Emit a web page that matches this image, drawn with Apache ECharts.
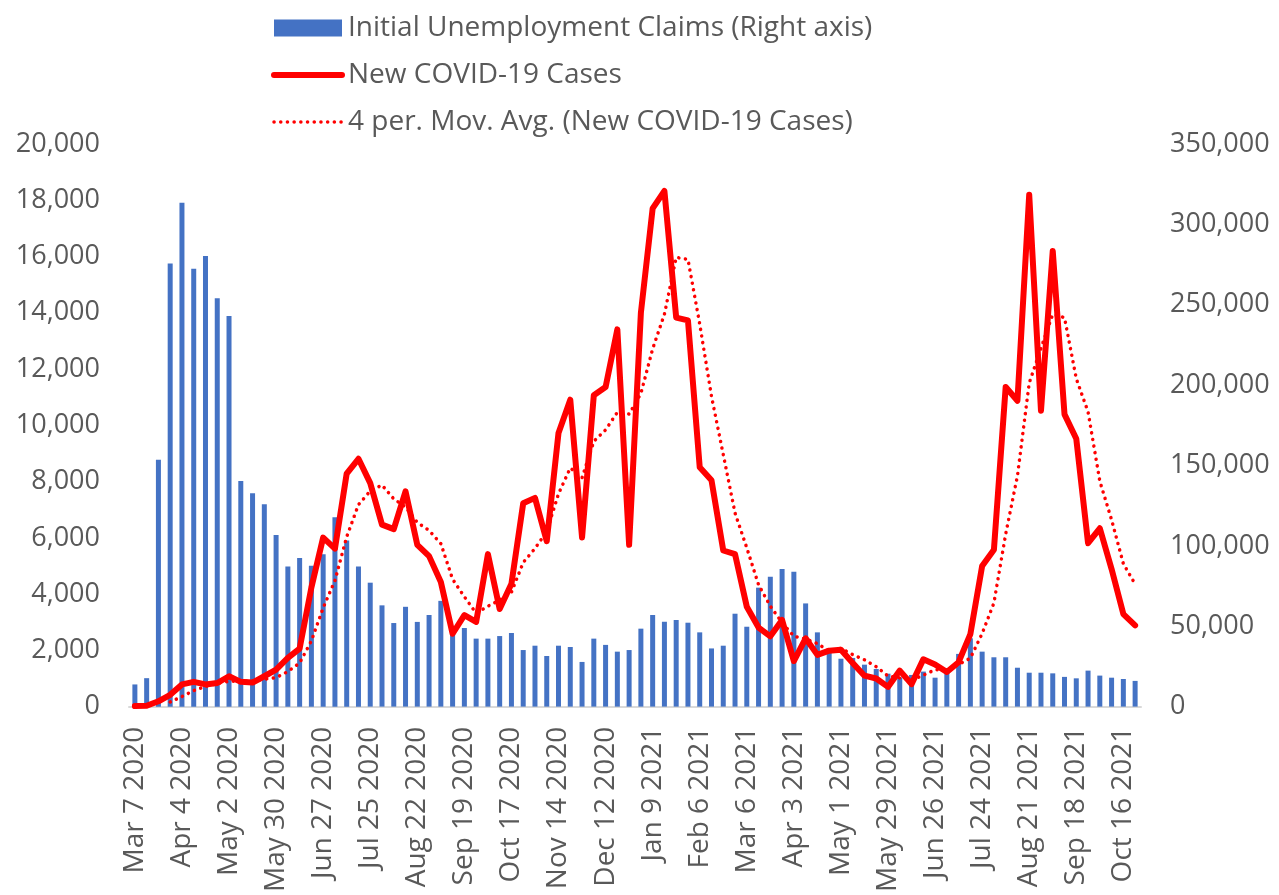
<!DOCTYPE html>
<html>
<head>
<meta charset="utf-8">
<script src="https://cdn.jsdelivr.net/npm/echarts@6/dist/echarts.min.js"></script>
<style>
html,body{margin:0;padding:0;background:#fff;}
#chart{width:1279px;height:895px;}
</style>
</head>
<body>
<div id="chart"></div>
<script>
const weeks = [
"Mar 7 2020","Mar 14 2020","Mar 21 2020","Mar 28 2020","Apr 4 2020","Apr 11 2020","Apr 18 2020","Apr 25 2020",
"May 2 2020","May 9 2020","May 16 2020","May 23 2020","May 30 2020","Jun 6 2020","Jun 13 2020","Jun 20 2020",
"Jun 27 2020","Jul 4 2020","Jul 11 2020","Jul 18 2020","Jul 25 2020","Aug 1 2020","Aug 8 2020","Aug 15 2020",
"Aug 22 2020","Aug 29 2020","Sep 5 2020","Sep 12 2020","Sep 19 2020","Sep 26 2020","Oct 3 2020","Oct 10 2020",
"Oct 17 2020","Oct 24 2020","Oct 31 2020","Nov 7 2020","Nov 14 2020","Nov 21 2020","Nov 28 2020","Dec 5 2020",
"Dec 12 2020","Dec 19 2020","Dec 26 2020","Jan 2 2021","Jan 9 2021","Jan 16 2021","Jan 23 2021","Jan 30 2021",
"Feb 6 2021","Feb 13 2021","Feb 20 2021","Feb 27 2021","Mar 6 2021","Mar 13 2021","Mar 20 2021","Mar 27 2021",
"Apr 3 2021","Apr 10 2021","Apr 17 2021","Apr 24 2021","May 1 2021","May 8 2021","May 15 2021","May 22 2021",
"May 29 2021","Jun 5 2021","Jun 12 2021","Jun 19 2021","Jun 26 2021","Jul 3 2021","Jul 10 2021","Jul 17 2021",
"Jul 24 2021","Jul 31 2021","Aug 7 2021","Aug 14 2021","Aug 21 2021","Aug 28 2021","Sep 4 2021","Sep 11 2021",
"Sep 18 2021","Sep 25 2021","Oct 2 2021","Oct 9 2021","Oct 16 2021","Oct 23 2021"
];

// Initial unemployment claims (right axis)
const claims = [
13800,17700,153500,275700,313400,272400,280300,254000,
243000,140400,132800,125900,106800,87200,92500,87700,
94800,117800,103300,87200,77100,63000,52000,62100,
52700,57000,65800,48500,48900,42300,42300,43900,
45800,35200,37900,31500,37900,37100,27800,42300,
38400,34200,35200,48500,57000,52800,53900,52200,
46200,36200,37900,57800,49700,74000,80800,85600,
83900,64200,46200,33800,29800,30300,26100,23400,
20500,18200,19700,21800,18000,24000,32800,42500,
34200,30700,30700,24200,21100,21100,20700,18500,
17600,22400,19300,18000,17200,16000
];

// New COVID-19 cases (left axis)
const cases = [
20,30,190,420,790,880,790,840,
1080,880,855,1080,1315,1735,2065,4235,
6010,5615,8285,8810,7945,6470,6310,7650,
5750,5350,4430,2590,3250,3010,5420,3470,
4370,7230,7420,5880,9730,10910,6010,11070,
11360,13410,5750,14000,17710,18330,13830,13730,
8510,8050,5550,5420,3550,2810,2500,3080,
1620,2430,1840,1990,2020,1550,1100,1000,
700,1280,800,1680,1500,1230,1580,2580,
5000,5575,11360,10875,18200,10520,16200,10390,
9520,5810,6340,4890,3290,2890
];

// 4 period moving average of new cases (left axis)
const movAvg = [
null,null,null,165,358,570,720,825,
898,898,914,974,1033,1246,1549,2338,
3511,4481,6036,7180,7664,7878,7384,7094,
6545,6265,5795,4530,3905,3320,3568,3788,
4068,5123,5623,6225,7565,8485,8133,9430,
9838,10463,10398,11130,12718,13948,15968,15900,
13600,11030,8960,6883,5643,4333,3570,2985,
2503,2408,2243,1970,2070,1850,1665,1418,
1088,1020,945,1115,1315,1303,1498,1723,
2598,3684,6129,8203,11503,12739,13949,13828,
11658,10480,8015,6640,5083,4353
];

const leftTicks = [0, 20000, 2000];
const rightTicks = [0, 350000, 50000];

const FONT = "'Open Sans', 'Noto Sans', sans-serif";
const GREY = '#595959';
const RED = '#FF0000';
const DOT = [0.1, 6.6];
const fmt = v => Number(v).toLocaleString('en-US');
const hiddenSymbol = {color: 'rgba(0,0,0,0)', borderWidth: 0, opacity: 0};

const chart = echarts.init(document.getElementById('chart'), null, {renderer: 'canvas'});
chart.setOption({
  animation: false,
  textStyle: {fontFamily: FONT},
  legend: {
    orient: 'vertical',
    left: 266,
    top: 6,
    itemWidth: 68,
    itemHeight: 17,
    itemGap: 13,
    textStyle: {fontFamily: FONT, fontSize: 28, color: GREY, padding: [0, 0, 0, 1], lineHeight: 34},
    data: [
      {name: 'Initial Unemployment Claims (Right axis)', icon: 'rect'},
      {name: 'New COVID-19 Cases', itemStyle: hiddenSymbol,
       lineStyle: {color: RED, width: 6, cap: 'round', type: 'solid'}},
      {name: '4 per. Mov. Avg. (New COVID-19 Cases)', itemStyle: hiddenSymbol,
       lineStyle: {color: RED, width: 3.5, cap: 'round', type: DOT}}
    ]
  },
  grid: {left: 129, right: 138, top: 144, bottom: 188, containLabel: false},
  xAxis: {
    type: 'category',
    data: weeks,
    boundaryGap: true,
    axisLine: {show: true, lineStyle: {color: '#D9D9D9', width: 2}},
    axisTick: {show: false},
    axisLabel: {
      interval: 3,
      rotate: 90,
      margin: 20,
      fontFamily: FONT,
      fontSize: 28,
      color: GREY
    },
    splitLine: {show: false}
  },
  yAxis: [
    {
      type: 'value',
      min: leftTicks[0], max: leftTicks[1], interval: leftTicks[2],
      axisLine: {show: false}, axisTick: {show: false}, splitLine: {show: false},
      axisLabel: {fontFamily: FONT, fontSize: 27, color: GREY, margin: 29, formatter: fmt}
    },
    {
      type: 'value',
      min: rightTicks[0], max: rightTicks[1], interval: rightTicks[2],
      position: 'right',
      axisLine: {show: false}, axisTick: {show: false}, splitLine: {show: false},
      axisLabel: {fontFamily: FONT, fontSize: 27, color: GREY, margin: 29, formatter: fmt}
    }
  ],
  series: [
    {
      name: 'Initial Unemployment Claims (Right axis)',
      type: 'bar',
      yAxisIndex: 1,
      data: claims,
      barWidth: 5,
      itemStyle: {color: '#4472C4'}
    },
    {
      name: 'New COVID-19 Cases',
      type: 'line',
      yAxisIndex: 0,
      data: cases,
      symbol: 'none',
      lineStyle: {color: RED, width: 6, join: 'round', cap: 'round'},
      itemStyle: {color: RED}
    },
    {
      name: '4 per. Mov. Avg. (New COVID-19 Cases)',
      type: 'line',
      yAxisIndex: 0,
      data: movAvg,
      symbol: 'none',
      lineStyle: {color: RED, width: 3.5, type: DOT, cap: 'round'},
      itemStyle: {color: RED}
    }
  ]
});
</script>
</body>
</html>
